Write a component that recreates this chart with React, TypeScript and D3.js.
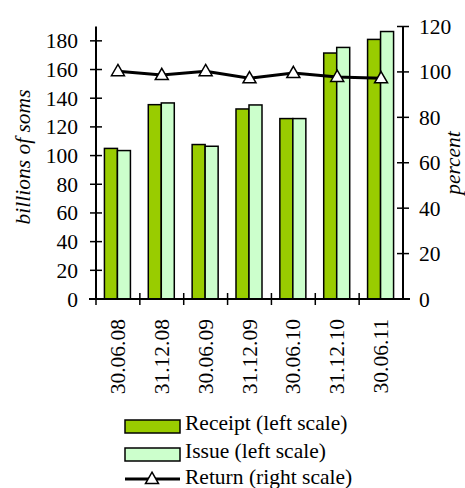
import React from "react";
import * as d3 from "d3";

const categories = ["30.06.08", "31.12.08", "30.06.09", "31.12.09", "30.06.10", "31.12.10", "30.06.11"];
const receipt = [105, 135.5, 107.7, 132.5, 125.8, 171.5, 181];
const issue = [103.5, 136.7, 106.5, 135.3, 125.8, 175.4, 186.5];
const returnPct = [100.3, 98.6, 100.3, 97.2, 99.5, 97.8, 97.2];
const leftTicks = [0, 20, 40, 60, 80, 100, 120, 140, 160, 180];
const rightTicks = [0, 20, 40, 60, 80, 100, 120];

const W = 465;
const H = 488;
const left = 96;
const right = 403;
const bottom = 299;
const top = 26.5;
const fs = 21.5;
const FF = '"Liberation Serif"';

function tri(cx: number, cy: number, s: number) {
  const h = s * 0.866;
  return `M${cx},${cy - h * 0.6}L${cx + s / 2},${cy + h * 0.4}L${cx - s / 2},${cy + h * 0.4}Z`;
}

export default function App() {
  const x = d3.scaleBand().domain(categories).range([left, right]).paddingInner(0).paddingOuter(0);
  const yL = d3.scaleLinear().domain([0, 190]).range([bottom, top]);
  const yR = d3.scaleLinear().domain([0, 120]).range([bottom, top]);
  const bw = 13;
  const line = d3
    .line<number>()
    .x((_, i) => (x(categories[i]) as number) + x.bandwidth() / 2)
    .y((d) => yR(d));
  const T = (props: any) => <text fontSize={fs} style={{ fontFamily: FF }} {...props} />;

  return (
    <svg width={W} height={H} style={{ position: "absolute", left: 0, top: 0 }}>
      <rect width={W} height={H} fill="#fff" />
      {categories.map((c, i) => {
        const cx = (x(c) as number) + x.bandwidth() / 2;
        return (
          <g key={c}>
            <rect x={cx - bw - 0.5} y={yL(receipt[i])} width={bw} height={bottom - yL(receipt[i])} fill="#99CC00" stroke="#000" strokeWidth={1.5} />
            <rect x={cx - 0.5} y={yL(issue[i])} width={bw} height={bottom - yL(issue[i])} fill="#CCFFCC" stroke="#000" strokeWidth={1.5} />
          </g>
        );
      })}
      <line x1={left} x2={left} y1={top} y2={bottom} stroke="#000" strokeWidth={2} />
      <line x1={right} x2={right} y1={top} y2={bottom} stroke="#000" strokeWidth={2} />
      <line x1={left - 7} x2={right + 7} y1={bottom} y2={bottom} stroke="#000" strokeWidth={2} />
      {leftTicks.map((t) => (
        <g key={"l" + t}>
          <line x1={left - 6} x2={left + 6} y1={yL(t)} y2={yL(t)} stroke="#000" strokeWidth={1.5} />
          <T x={left - 18} y={yL(t)} dy="0.35em" textAnchor="end">{String(t)}</T>
        </g>
      ))}
      {rightTicks.map((t) => (
        <g key={"r" + t}>
          <line x1={right - 6} x2={right + 6} y1={yR(t)} y2={yR(t)} stroke="#000" strokeWidth={1.5} />
          <T x={right + 16} y={yR(t)} dy="0.35em" textAnchor="start">{String(t)}</T>
        </g>
      ))}
      {categories.map((c, i) => (
        <line key={"xt" + i} x1={x(c) as number} x2={x(c) as number} y1={bottom - 6} y2={bottom + 6} stroke="#000" strokeWidth={1.5} />
      ))}
      {categories.map((c) => {
        const cx = (x(c) as number) + x.bandwidth() / 2;
        return (
          <T key={"xl" + c} transform={`translate(${cx + 7},319) rotate(-90)`} textAnchor="end">{c}</T>
        );
      })}
      <T transform="translate(30,157) rotate(-90)" textAnchor="middle" fontStyle="italic">billions of soms</T>
      <T transform="translate(460,163) rotate(-90)" textAnchor="middle" fontStyle="italic">percent</T>
      <path d={line(returnPct) as string} fill="none" stroke="#000" strokeWidth={3} />
      {returnPct.map((v, i) => (
        <path key={"m" + i} d={tri((x(categories[i]) as number) + x.bandwidth() / 2, yR(v), 13)} fill="#fff" stroke="#000" strokeWidth={1.5} />
      ))}
      <rect x={125} y={420} width={55} height={13} fill="#99CC00" stroke="#000" strokeWidth={1.5} />
      <T x={185} y={430}>Receipt (left scale)</T>
      <rect x={125} y={448} width={55} height={13} fill="#CCFFCC" stroke="#000" strokeWidth={1.5} />
      <T x={185} y={458}>Issue (left scale)</T>
      <line x1={125} x2={180} y1={479} y2={479} stroke="#000" strokeWidth={3} />
      <path d={tri(152, 479, 13)} fill="#fff" stroke="#000" strokeWidth={1.5} />
      <T x={185} y={484}>Return (right scale)</T>
    </svg>
  );
}
